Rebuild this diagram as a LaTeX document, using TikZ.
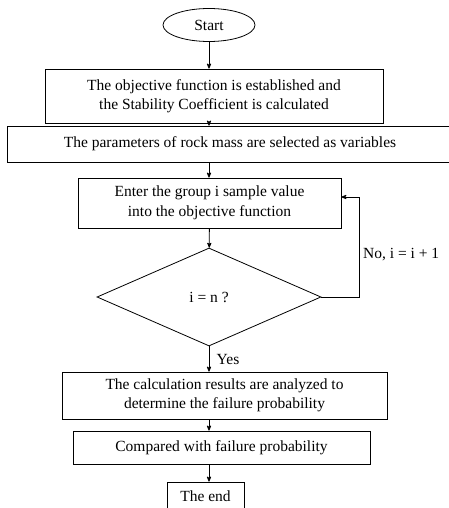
\documentclass[tikz,border=0pt]{standalone}
\usepackage{fontspec}
\setmainfont{Liberation Serif}
\usetikzlibrary{arrows,shapes.geometric}

\begin{document}
\begin{tikzpicture}[->,>=stealth',x=1pt,y=-1pt,line width=0.8pt,
	main node/.style={draw,align=center,inner sep=0pt,font=\fontsize{15.5}{19.5}\selectfont},
	box node/.style={main node,rectangle}]
\useasboundingbox (0,0) rectangle (448,508);
\node[main node,ellipse,minimum width=92,minimum height=33] (1) at (209,25) {Start};
\node[box node,minimum width=338,minimum height=54] (2) at (214,96) {The objective function is established and\\the Stability Coefficient is calculated};
\node[box node,minimum width=446,minimum height=36] (3) at (230,144) {The parameters of rock mass are selected as variables};
\node[box node,minimum width=263,minimum height=50] (4) at (209.5,203) {Enter the group i sample value\\into the objective function};
\node[main node,diamond,minimum width=224,minimum height=98] (5) at (209,297) {i = n ?};
\node[box node,minimum width=325,minimum height=47] (6) at (224.5,395.5) {The calculation results are analyzed to\\determine the failure probability};
\node[box node,minimum width=297,minimum height=33] (7) at (221.5,447.5) {Compared with failure probability};
\node[box node,minimum width=77,minimum height=28] (8) at (205.5,496) {The end};
\path[every node/.style={font=\fontsize{15.5}{19.5}\selectfont}]
	(1)         edge (1 |- 2.north)
	(2.south -| 1) edge (1 |- 3.north)
	(3.south -| 1) edge (1 |- 4.north)
	(4)         edge (5)
	(5)         edge node[right,xshift=4pt] {Yes} (1 |- 6.north)
	(6.south -| 1) edge (1 |- 7.north)
	(7.south -| 1) edge (1 |- 8.north);
\draw (5.east) -- ++(38,0) |- node[pos=0.21,right,font=\fontsize{15.5}{19.5}\selectfont] {No, i = i + 1} ([yshift=6pt]4.east);
\end{tikzpicture}
\end{document}
